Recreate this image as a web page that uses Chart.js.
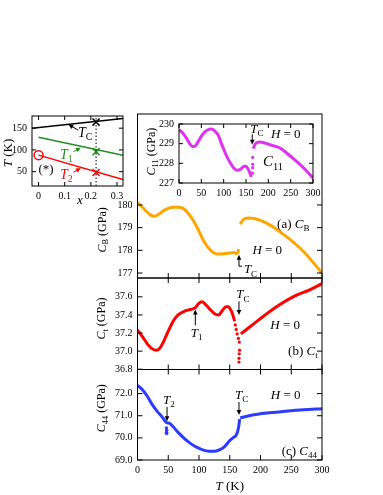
<!DOCTYPE html>
<html>
<head>
<meta charset="utf-8">
<script src="https://cdn.jsdelivr.net/npm/chart.js@4.4.1/dist/chart.umd.min.js"></script>
<style>
  html, body { margin: 0; padding: 0; background: #fff; }
  #wrap { position: relative; width: 383px; height: 495px; overflow: hidden; }
  #wrap canvas { position: absolute; left: 0; top: 0; }
</style>
</head>
<body>
<div id="wrap">
  <canvas id="phaseChart" width="383" height="495"></canvas>
  <canvas id="cbChart" width="383" height="495"></canvas>
  <canvas id="ctChart" width="383" height="495"></canvas>
  <canvas id="c44Chart" width="383" height="495"></canvas>
  <canvas id="c11Chart" width="383" height="495"></canvas>
</div>
<script>
// --- phase diagram T vs x ---
const phaseTcX = [-0.025, 0.323];
const phaseTcT = [150, 172];
const phaseT1X = [0, 0.323];
const phaseT1T = [129, 87.5];
const phaseT2X = [0, 0.323];
const phaseT2T = [88, 32];
const sampleX = [0.22, 0.22, 0.22];
const sampleT = [164, 96, 48];      // Tc, T1, T2 of the measured sample
const pureX = [0];
const pureT2 = [88];
const dashX = [0.22, 0.22];
const dashT = [17, 178];
const phaseXTicks = [0, 0.1, 0.2, 0.3];
const phaseYTicks = [50, 100, 150];

// --- temperature axis shared by the stack ---
const tempTicks = [0, 50, 100, 150, 200, 250, 300];

// (a) bulk modulus C_B
const cbT = [0, 8, 15, 22, 28, 35, 42, 50, 58, 66, 74, 82, 90, 98, 106, 114, 122, 130, 140, 150, 156, 160, 163, 164.5, null,
  167, 172, 180, 190, 210, 240, 270, 300];
const cbV = [180.1, 179.9, 179.7, 179.55, 179.5, 179.6, 179.74, 179.85, 179.9, 179.9, 179.85, 179.65, 179.35, 178.95, 178.5, 178.15, 177.92, 177.84, 177.85, 177.88, 177.9, 177.86, 177.9, 178.05, null,
  179.15, 179.35, 179.42, 179.4, 179.2, 178.65, 177.95, 177.0];
const cbTicks = [177, 178, 179, 180];

// (b) C_t
const ctT = [0, 8, 16, 23, 30, 36, 42, 50, 58, 66, 76, 86, 94, 100, 105, 110, 118, 126, 132, 138, 144, 148, 152, 155, 158, null,
  168, 185, 200, 226, 253, 281, 300];
const ctV = [37.235, 37.16, 37.08, 37.03, 37.01, 37.03, 37.1, 37.22, 37.33, 37.4, 37.44, 37.46, 37.48, 37.53, 37.545, 37.52, 37.46, 37.41, 37.4, 37.45, 37.49, 37.49, 37.45, 37.4, 37.33, null,
  37.19, 37.28, 37.36, 37.49, 37.6, 37.68, 37.745];
const ctDotT = [159, 160.5, 162, 164, 165.5, 166, 165.5, 165, 165];
const ctDotV = [37.29, 37.24, 37.19, 37.14, 37.1, 37.01, 36.97, 36.92, 36.88];
const ctTicks = [36.8, 37.0, 37.2, 37.4, 37.6];

// (c) C_44
const c44T = [0, 8, 16, 24, 32, 40, 47, 52, 58, 66, 76, 86, 96, 106, 116, 126, 134, 142, 150, 156, 160, 163, 165, 166, null,
  167, 185, 210, 240, 270, 300];
const c44V = [72.37, 72.18, 71.88, 71.5, 71.2, 70.95, 70.7, 70.66, 70.5, 70.25, 69.98, 69.75, 69.58, 69.46, 69.4, 69.4, 69.47, 69.62, 69.88, 70.02, 70.1, 70.3, 70.6, 70.85, null,
  70.9, 71.02, 71.12, 71.2, 71.27, 71.32];
const c44DotT = [47, 47.5, 47, 47.5];
const c44DotV = [70.45, 70.35, 70.25, 70.2];
const c44Ticks = [69, 70, 71, 72];

// inset C_11
const c11T = [0, 8, 16, 24, 30, 36, 44, 52, 62, 72, 80, 88, 96, 104, 114, 122, 130, 138, 146, 150, 155, 158, 162, null,
  166, 172, 180, 190, 210, 226, 245, 263, 282, 300];
const c11V = [229.7, 229.55, 229.3, 229.0, 228.85, 228.87, 229.15, 229.45, 229.67, 229.74, 229.65, 229.42, 228.95, 228.5, 228.05, 227.78, 227.65, 227.7, 227.85, 227.85, 227.7, 227.55, 227.3, null,
  228.75, 229.02, 229.08, 229.05, 228.9, 228.78, 228.45, 228.1, 227.7, 227.25];
const c11DotT = [165, 165, 165, 164.5];
const c11DotV = [228.3, 227.95, 227.78, 227.5];
const c11Ticks = [227, 228, 229, 230];

const ORANGE = '#ffa500', RED = '#ff0000', BLUE = '#2b3bff', MAGENTA = '#e030f0', GREEN = '#228b22';
const SERIF = "'Liberation Serif', 'Times New Roman', serif";

Chart.defaults.font.family = SERIF;
Chart.defaults.font.size = 10;
Chart.defaults.color = '#000';
Chart.defaults.animation = false;
Chart.defaults.plugins.legend.display = false;
Chart.defaults.plugins.tooltip.enabled = false;

function pts(xs, ys) {
  return xs.map(function (x, i) { return { x: x, y: ys[i] }; });
}

function axis(min, max, ticks, size, showLabels, fmt, vertical) {
  return {
    type: 'linear', min: min, max: max,
    grid: { display: false, drawTicks: false }, border: { display: false },
    afterBuildTicks: function (s) { s.ticks = ticks.map(function (v) { return { value: v }; }); },
    afterFit: function (s) { if (vertical) s.width = size; else s.height = size; },
    ticks: { display: showLabels, padding: vertical ? 5 : 4, autoSkip: false, maxRotation: 0,
      callback: fmt || function (v) { return v; } }
  };
}

function drawRich(ctx, parts, x, y, size, align, color) {
  let w = 0;
  const info = parts.map(function (p) {
    const st = p[1] || '';
    const sz = st.indexOf('s') >= 0 ? size * 0.7 : size;
    const f = (st.indexOf('i') >= 0 ? 'italic ' : '') + sz + 'px ' + SERIF;
    ctx.font = f;
    const pw = ctx.measureText(p[0]).width;
    w += pw;
    return { f: f, pw: pw, dy: st.indexOf('s') >= 0 ? size * 0.32 : 0 };
  });
  let cx = align === 'center' ? x - w / 2 : (align === 'right' ? x - w : x);
  ctx.fillStyle = color || '#000';
  ctx.textAlign = 'left';
  ctx.textBaseline = 'middle';
  parts.forEach(function (p, i) {
    ctx.font = info[i].f;
    ctx.fillText(p[0], cx, y + info[i].dy);
    cx += info[i].pw;
  });
}

function drawArrow(ctx, x1, y1, x2, y2, color) {
  const a = Math.atan2(y2 - y1, x2 - x1);
  const hl = 5, hw = 2.3;
  ctx.strokeStyle = color; ctx.fillStyle = color; ctx.lineWidth = 1;
  ctx.beginPath();
  ctx.moveTo(x1, y1);
  ctx.lineTo(x2 - hl * 0.7 * Math.cos(a), y2 - hl * 0.7 * Math.sin(a));
  ctx.stroke();
  ctx.beginPath();
  ctx.moveTo(x2, y2);
  ctx.lineTo(x2 - hl * Math.cos(a) + hw * Math.sin(a), y2 - hl * Math.sin(a) - hw * Math.cos(a));
  ctx.lineTo(x2 - hl * Math.cos(a) - hw * Math.sin(a), y2 - hl * Math.sin(a) + hw * Math.cos(a));
  ctx.closePath();
  ctx.fill();
}

// white box behind an inset + black frame with inward ticks
const framePlugin = {
  id: 'frame',
  beforeDraw: function (chart, args, opts) {
    if (!opts.fill) return;
    const a = chart.chartArea;
    chart.ctx.save();
    chart.ctx.fillStyle = '#fff';
    chart.ctx.fillRect(a.left, a.top, a.right - a.left, a.bottom - a.top);
    chart.ctx.restore();
  },
  afterDraw: function (chart, args, opts) {
    const ctx = chart.ctx, a = chart.chartArea, sx = chart.scales.x, sy = chart.scales.y;
    const len = opts.len || 5;
    ctx.save();
    ctx.strokeStyle = '#000';
    ctx.lineWidth = 1;
    ctx.strokeRect(a.left, a.top, a.right - a.left, a.bottom - a.top);
    ctx.beginPath();
    sx.ticks.forEach(function (t) {
      const px = sx.getPixelForValue(t.value);
      if (opts.bottom !== false) { ctx.moveTo(px, a.bottom); ctx.lineTo(px, a.bottom - len); }
      if (opts.top !== false) { ctx.moveTo(px, a.top); ctx.lineTo(px, a.top + len); }
    });
    sy.ticks.forEach(function (t) {
      const py = sy.getPixelForValue(t.value);
      ctx.moveTo(a.left, py); ctx.lineTo(a.left + len, py);
      ctx.moveTo(a.right, py); ctx.lineTo(a.right - len, py);
    });
    ctx.stroke();
    ctx.restore();
  }
};

// labels, arrows and axis titles placed in data units
const notesPlugin = {
  id: 'notes',
  afterDraw: function (chart, args, opts) {
    const ctx = chart.ctx, sx = chart.scales.x, sy = chart.scales.y;
    const X = function (v) { return sx.getPixelForValue(v); };
    const Y = function (v) { return sy.getPixelForValue(v); };
    ctx.save();
    (opts.items || []).forEach(function (it) {
      const col = it.color || '#000';
      if (it.arrow) {
        drawArrow(ctx, X(it.arrow[0]), Y(it.arrow[1]), X(it.arrow[2]), Y(it.arrow[3]), col);
      } else if (it.line) {
        ctx.strokeStyle = col; ctx.lineWidth = 1;
        ctx.beginPath();
        ctx.moveTo(X(it.line[0]), Y(it.line[1]));
        ctx.lineTo(X(it.line[2]), Y(it.line[3]));
        ctx.stroke();
      } else if (it.rot) {
        ctx.save();
        ctx.translate(X(it.at[0]), Y(it.at[1]));
        ctx.rotate(-Math.PI / 2);
        drawRich(ctx, it.text, 0, 0, it.size || 12, 'center', col);
        ctx.restore();
      } else {
        drawRich(ctx, it.text, X(it.at[0]), Y(it.at[1]), it.size || 13, it.align || 'left', col);
      }
    });
    ctx.restore();
  }
};

const TC = [['T', 'i'], ['C', 's']];
const H0 = [['H', 'i'], [' = 0', '']];
const fmt1 = function (v) { return v.toFixed(1); };

// phase diagram
new Chart(document.getElementById('phaseChart'), {
  type: 'line',
  data: { datasets: [
    { data: pts(phaseTcX, phaseTcT), borderColor: '#000', borderWidth: 1.5, pointRadius: 0 },
    { data: pts(phaseT1X, phaseT1T), borderColor: GREEN, borderWidth: 1.5, pointRadius: 0 },
    { data: pts(phaseT2X, phaseT2T), borderColor: RED, borderWidth: 1.5, pointRadius: 0 },
    { data: pts(dashX, dashT), borderColor: '#000', borderWidth: 1, borderDash: [1.5, 2], pointRadius: 0 },
    { data: pts(sampleX, sampleT), showLine: false, pointStyle: 'crossRot', pointRadius: 5, pointBorderWidth: 1.5,
      pointBorderColor: ['#000', GREEN, RED] },
    { data: pts(pureX, pureT2), showLine: false, pointStyle: 'circle', pointRadius: 4.5, pointBorderWidth: 1.5,
      pointBorderColor: RED, pointBackgroundColor: 'rgba(0,0,0,0)' }
  ]},
  options: {
    responsive: false,
    layout: { padding: { left: 2, right: 260, top: 116, bottom: 289 } },
    scales: {
      x: axis(-0.025, 0.323, phaseXTicks, 20, true, function (v) { return v === 0 ? '0' : v.toFixed(1); }, false),
      y: axis(17, 178, phaseYTicks, 30, true, null, true)
    },
    plugins: {
      frame: { len: 4 },
      notes: { items: [
        { rot: true, at: [-0.115, 93], text: [['T', 'i'], [' (K)', '']], size: 13 },
        { at: [0.158, -16], text: [['x', 'i']], size: 13, align: 'center' },
        { at: [0.151, 138], text: TC, size: 14 },
        { arrow: [0.152, 145.5, 0.114, 158.4] },
        { at: [0.082, 88.6], text: [['T', 'i'], ['1', 's']], size: 14, color: GREEN },
        { arrow: [0.133, 96, 0.162, 105], color: GREEN },
        { at: [0.082, 41.6], text: [['T', 'i'], ['2', 's']], size: 14, color: RED },
        { arrow: [0.133, 48.5, 0.162, 58.4], color: RED },
        { at: [0.029, 54.5], text: [['(*)', '']], size: 13, align: 'center' }
      ]}
    }
  },
  plugins: [framePlugin, notesPlugin]
});

// (a) C_B
new Chart(document.getElementById('cbChart'), {
  type: 'line',
  data: { datasets: [
    { data: pts(cbT, cbV), borderColor: ORANGE, borderWidth: 3, pointRadius: 0, cubicInterpolationMode: 'monotone' }
  ]},
  options: {
    responsive: false,
    layout: { padding: { left: 97.5, right: 61, top: 114, bottom: 217 } },
    scales: {
      x: axis(0, 300, tempTicks, 0, false, null, false),
      y: axis(176.78, 184.01, cbTicks, 40, true, null, true)
    },
    plugins: {
      frame: { top: false },
      notes: { items: [
        { rot: true, at: [-57, 178.9], text: [['C', 'i'], ['B', 's'], [' (GPa)', '']], size: 12 },
        { at: [227, 179.12], text: [['(a) ', ''], ['C', 'i'], ['B', 's']], size: 13 },
        { at: [211, 178.01], text: H0, size: 13, align: 'center' },
        { arrow: [165, 177.3, 165, 177.8] },
        { line: [165, 177.3, 170, 177.3] },
        { at: [173, 177.13], text: TC, size: 13 }
      ]}
    }
  },
  plugins: [framePlugin, notesPlugin]
});

// (b) C_t
new Chart(document.getElementById('ctChart'), {
  type: 'line',
  data: { datasets: [
    { data: pts(ctT, ctV), borderColor: RED, borderWidth: 3, pointRadius: 0, cubicInterpolationMode: 'monotone' },
    { data: pts(ctDotT, ctDotV), showLine: false, pointRadius: 1.6, pointBorderWidth: 0, pointBackgroundColor: RED }
  ]},
  options: {
    responsive: false,
    layout: { padding: { left: 97.5, right: 61, top: 278, bottom: 125.5 } },
    scales: {
      x: axis(0, 300, tempTicks, 0, false, null, false),
      y: axis(36.797, 37.808, ctTicks, 40, true, fmt1, true)
    },
    plugins: {
      frame: {},
      notes: { items: [
        { rot: true, at: [-58, 37.36], text: [['C', 'i'], ['t', 's'], [' (GPa)', '']], size: 12 },
        { arrow: [94, 37.285, 94, 37.46] },
        { at: [96, 37.19], text: [['T', 'i'], ['1', 's']], size: 13, align: 'center' },
        { at: [171.5, 37.62], text: TC, size: 13, align: 'center' },
        { arrow: [165, 37.55, 165, 37.4] },
        { at: [240, 37.285], text: H0, size: 13, align: 'center' },
        { at: [293, 37.0], text: [['(b) ', ''], ['C', 'i'], ['t', 's']], size: 13, align: 'right' }
      ]}
    }
  },
  plugins: [framePlugin, notesPlugin]
});

// (c) C_44
new Chart(document.getElementById('c44Chart'), {
  type: 'line',
  data: { datasets: [
    { data: pts(c44T, c44V), borderColor: BLUE, borderWidth: 3, pointRadius: 0, cubicInterpolationMode: 'monotone' },
    { data: pts(c44DotT, c44DotV), showLine: false, pointRadius: 1.7, pointBorderWidth: 0, pointBackgroundColor: BLUE }
  ]},
  options: {
    responsive: false,
    layout: { padding: { left: 97.5, right: 61, top: 369.5, bottom: 15 } },
    scales: {
      x: axis(0, 300, tempTicks, 20, true, null, false),
      y: axis(69.0, 73.09, c44Ticks, 40, true, fmt1, true)
    },
    plugins: {
      frame: {},
      notes: { items: [
        { rot: true, at: [-58, 71.34], text: [['C', 'i'], ['44', 's'], [' (GPa)', '']], size: 12 },
        { at: [51, 71.7], text: [['T', 'i'], ['2', 's']], size: 13, align: 'center' },
        { arrow: [48, 71.4, 48, 70.75] },
        { at: [169.4, 71.92], text: TC, size: 13, align: 'center' },
        { arrow: [165, 71.62, 165, 71.03] },
        { at: [241, 71.92], text: H0, size: 13, align: 'center' },
        { at: [292, 69.38], text: [['(c) ', ''], ['C', 'i'], ['44', 's']], size: 13, align: 'right' },
        { at: [150, 67.8], text: [['T', 'i'], [' (K)', '']], size: 13, align: 'center' }
      ]}
    }
  },
  plugins: [framePlugin, notesPlugin]
});

// inset C_11
new Chart(document.getElementById('c11Chart'), {
  type: 'line',
  data: { datasets: [
    { data: pts(c11T, c11V), borderColor: MAGENTA, borderWidth: 3, pointRadius: 0, cubicInterpolationMode: 'monotone' },
    { data: pts(c11DotT, c11DotV), showLine: false, pointRadius: 1.6, pointBorderWidth: 0, pointBackgroundColor: MAGENTA }
  ]},
  options: {
    responsive: false,
    layout: { padding: { left: 144, right: 70, top: 124, bottom: 297 } },
    scales: {
      x: axis(0, 300, tempTicks, 15, true, null, false),
      y: axis(227, 230, c11Ticks, 35, true, null, true)
    },
    plugins: {
      frame: { fill: true, len: 4 },
      notes: { items: [
        { rot: true, at: [-61, 228.6], text: [['C', 'i'], ['11', 's'], [' (GPa)', '']], size: 12 },
        { at: [174.6, 229.7], text: TC, size: 13, align: 'center' },
        { arrow: [164, 229.48, 164, 228.95] },
        { at: [239, 229.45], text: H0, size: 13, align: 'center' },
        { at: [188, 228.05], text: [['C', 'i'], ['11', 's']], size: 15 }
      ]}
    }
  },
  plugins: [framePlugin, notesPlugin]
});
</script>
</body>
</html>
